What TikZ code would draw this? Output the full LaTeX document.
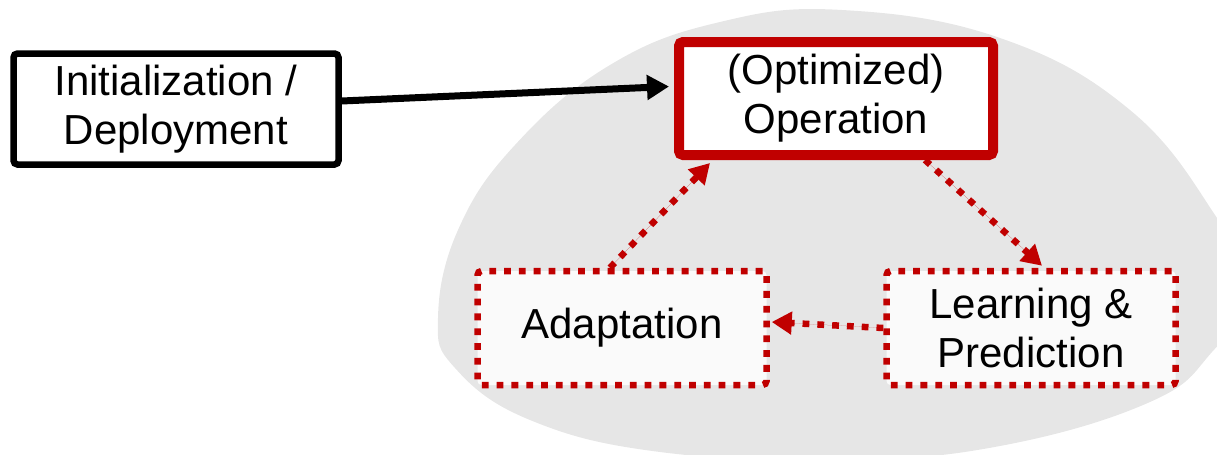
\documentclass[tikz,border=0pt]{standalone}
\usepackage{fontspec}
\setmainfont{Liberation Sans}
\usepackage{xcolor}
\usepackage{tikz}
\usetikzlibrary{arrows.meta}

\definecolor{opred}{HTML}{C00000}
\definecolor{blobgray}{HTML}{E6E6E6}
\definecolor{softwhite}{HTML}{FAFAFA}

\begin{document}
\begin{tikzpicture}[
  x=0.5pt, y=-0.5pt,
  box/.style={draw, rounded corners=2pt, fill=white, align=center,
              inner sep=0pt, font=\fontsize{21}{24.5}\selectfont},
  initbox/.style={box, line width=3.25pt, minimum width=162.5pt, minimum height=55.5pt},
  opbox/.style={box, draw=opred, line width=5pt, minimum width=157pt, minimum height=56.5pt},
  loopbox/.style={box, draw=opred, fill=softwhite, line width=3.25pt,
                  dash pattern=on 3.4pt off 4pt,
                  minimum width=144.5pt, minimum height=57pt},
  arr/.style={-{Triangle[length=11pt, width=12pt]}, line width=3.5pt},
  looparr/.style={-{Triangle[length=10pt, width=11pt]}, draw=opred, fill=opred,
                  line width=3.25pt, dash pattern=on 3.4pt off 4pt}
]
  \useasboundingbox (0,0) rectangle (1217,455);

  % background blob
  \begin{scope}
    \clip (0,0) rectangle (1217,455);
    \fill[blobgray] plot[smooth cycle, tension=0.7] coordinates {
      (842,10) (1000,38) (1130,110) (1215,215) (1250,290) (1212,352)
      (1150,402) (1000,446) (842,460) (660,452) (530,420) (455,368)
      (438,318) (458,230) (515,145) (610,65) (720,22)};
  \end{scope}

  % nodes
  \node[initbox] (init) at (176,109) {Initialization /\\Deployment};
  \node[opbox] (op) at (836,98.5) {(Optimized)\\Operation};
  \node[loopbox] (adapt) at (622,328) {Adaptation};
  \node[loopbox] (learn) at (1031,328) {Learning \&\\Prediction};

  % arrows
  \draw[arr] ([yshift=4pt]init.east) -- ([yshift=6pt, xshift=-2.5pt]op.west);
  \draw[looparr] ([xshift=44.5pt]op.south) -- ([xshift=5.5pt, yshift=1pt]learn.north);
  \draw[looparr] (learn.west) -- ([yshift=3pt, xshift=1pt]adapt.east);
  \draw[looparr] ([xshift=-6pt]adapt.north) -- ([xshift=-63pt, yshift=-1.5pt]op.south);
\end{tikzpicture}
\end{document}
